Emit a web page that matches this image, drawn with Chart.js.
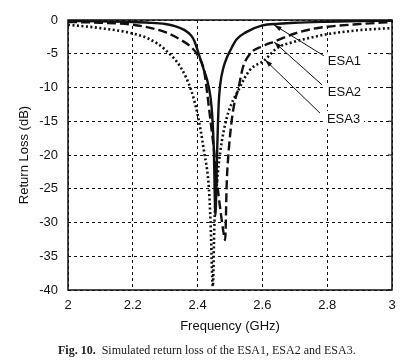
<!DOCTYPE html>
<html>
<head>
<meta charset="utf-8">
<script src="https://cdn.jsdelivr.net/npm/chart.js@4"></script>
<style>
  body { margin: 0; background: #fff; }
  #wrap { position: relative; width: 404px; height: 364px; }
  #caption {
    position: absolute; left: 58px; top: 343px;
    font: 12px "Liberation Serif", "DejaVu Serif", serif; color: #222;
    white-space: nowrap;
  }
</style>
</head>
<body>
<div id="wrap">
  <canvas id="chart" width="404" height="364"></canvas>
  <div id="caption"><b>Fig. 10.</b>&nbsp; Simulated return loss of the ESA1, ESA2 and ESA3.</div>
</div>
<script>
// frequency (GHz) / return loss (dB)
const esa1Freq = [2.0, 2.1, 2.2, 2.25, 2.3, 2.33, 2.36, 2.38, 2.39, 2.4, 2.41, 2.42, 2.43, 2.44, 2.445, 2.45, 2.455, 2.46, 2.465, 2.47, 2.48, 2.49, 2.5, 2.52, 2.55, 2.6, 2.65, 2.7, 2.8, 2.9, 3.0];
const esa1Loss = [-0.15, -0.2, -0.3, -0.4, -0.6, -0.9, -1.5, -2.3, -3.1, -4.5, -6, -7.5, -9, -11.5, -14, -19, -29, -20, -12.5, -9.5, -7, -5.6, -4.6, -2.9, -1.8, -0.8, -0.55, -0.4, -0.25, -0.15, -0.1];

const esa2Freq = [2.0, 2.1, 2.2, 2.3, 2.35, 2.38, 2.4, 2.42, 2.43, 2.44, 2.45, 2.46, 2.47, 2.48, 2.485, 2.49, 2.495, 2.505, 2.515, 2.525, 2.54, 2.562, 2.6, 2.636, 2.7, 2.752, 2.8, 2.9, 3.0];
const esa2Loss = [-0.3, -0.4, -0.7, -1.8, -3, -4, -5.2, -7.5, -11, -15, -19, -24, -28, -31.5, -32.6, -24, -20, -15, -12, -10.3, -7, -5, -3.9, -3.2, -2, -1.35, -1.0, -0.6, -0.3];

const esa3Freq = [2.0, 2.1, 2.2, 2.25, 2.3, 2.35, 2.38, 2.4, 2.42, 2.435, 2.44, 2.447, 2.452, 2.46, 2.47, 2.49, 2.53, 2.56, 2.608, 2.644, 2.7, 2.75, 2.8, 2.9, 3.0];
const esa3Loss = [-0.7, -1.2, -2.0, -2.8, -4.4, -7.2, -10.4, -14, -19.5, -25, -30, -39.5, -30, -24, -19.5, -14.5, -10, -7.5, -5.9, -4.2, -3.2, -2.6, -2.1, -1.5, -1.2];

// callouts: label text, label anchor, arrow start, arrow tip (data units)
const calloutText = ["ESA1", "ESA2", "ESA3"];
const calloutLabel = [[2.802, -6.1], [2.802, -10.7], [2.799, -14.8]];
const calloutFrom = [[2.793, -5.4], [2.784, -9.6], [2.778, -13.8]];
const calloutTip = [[2.636, -0.74], [2.636, -3.26], [2.608, -5.9]];

function pts(xs, ys) {
  return xs.map((x, i) => ({ x: x, y: ys[i] }));
}

const frame = {
  id: "frame",
  afterDatasetsDraw(chart) {
    const { ctx, chartArea: a, scales } = chart;
    ctx.save();
    ctx.strokeStyle = "#111";
    ctx.lineWidth = 1.5;
    ctx.strokeRect(a.left, a.top, a.right - a.left, a.bottom - a.top);

    // short inward ticks on the right edge
    ctx.lineWidth = 1;
    scales.y.ticks.forEach((t) => {
      const y = scales.y.getPixelForValue(t.value);
      ctx.beginPath();
      ctx.moveTo(a.right - 4, y);
      ctx.lineTo(a.right, y);
      ctx.stroke();
    });

    // callout arrows and labels
    ctx.fillStyle = "#111";
    ctx.font = "13px 'Liberation Sans', Arial, sans-serif";
    ctx.textBaseline = "middle";
    for (let i = 0; i < calloutText.length; i++) {
      const x0 = scales.x.getPixelForValue(calloutFrom[i][0]);
      const y0 = scales.y.getPixelForValue(calloutFrom[i][1]);
      const x1 = scales.x.getPixelForValue(calloutTip[i][0]);
      const y1 = scales.y.getPixelForValue(calloutTip[i][1]);
      ctx.beginPath();
      ctx.moveTo(x0, y0);
      ctx.lineTo(x1, y1);
      ctx.stroke();
      const ang = Math.atan2(y1 - y0, x1 - x0);
      const len = 8, w = 0.3;
      ctx.beginPath();
      ctx.moveTo(x1, y1);
      ctx.lineTo(x1 - len * Math.cos(ang - w), y1 - len * Math.sin(ang - w));
      ctx.lineTo(x1 - len * Math.cos(ang + w), y1 - len * Math.sin(ang + w));
      ctx.closePath();
      ctx.fill();

      const lx = scales.x.getPixelForValue(calloutLabel[i][0]);
      const ly = scales.y.getPixelForValue(calloutLabel[i][1]);
      const tw = ctx.measureText(calloutText[i]).width;
      ctx.fillStyle = "#fff";
      ctx.fillRect(lx - 4, ly - 9, tw + 8, 18);
      ctx.fillStyle = "#111";
      ctx.fillText(calloutText[i], lx, ly);
    }
    ctx.restore();
  }
};

const tickFont = { family: "'Liberation Sans', Arial, sans-serif", size: 13 };

new Chart(document.getElementById("chart"), {
  type: "line",
  data: {
    datasets: [
      { label: "ESA1", data: pts(esa1Freq, esa1Loss), borderColor: "#111", borderWidth: 2.4 },
      { label: "ESA2", data: pts(esa2Freq, esa2Loss), borderColor: "#111", borderWidth: 2.4, borderDash: [9, 4] },
      { label: "ESA3", data: pts(esa3Freq, esa3Loss), borderColor: "#111", borderWidth: 2.6, borderDash: [2, 2.5] }
    ]
  },
  options: {
    responsive: false,
    animation: false,
    cubicInterpolationMode: "monotone",
    pointRadius: 0,
    layout: { padding: { left: 0, right: 12, top: 20, bottom: 30 } },
    plugins: { legend: { display: false }, tooltip: { enabled: false } },
    scales: {
      x: {
        type: "linear", min: 2, max: 3,
        afterFit: (s) => { s.height = 44; },
        ticks: { stepSize: 0.2, padding: 8, color: "#111", font: tickFont,
          callback: (v) => String(+v.toFixed(1)) },
        grid: { color: "#111", lineWidth: 1, drawTicks: false },
        border: { display: false, dash: [3, 3] },
        title: { display: true, text: "Frequency (GHz)", color: "#111", font: tickFont, padding: { top: 2, bottom: 0 } }
      },
      y: {
        min: -40, max: 0,
        afterFit: (s) => { s.width = 68; },
        ticks: { stepSize: 5, padding: 10, color: "#111", font: tickFont },
        grid: { color: "#111", lineWidth: 1, drawTicks: false },
        border: { display: false, dash: [3, 3] },
        title: { display: true, text: "Return Loss (dB)", color: "#111", font: tickFont, padding: { top: 17, bottom: 0 } }
      }
    }
  },
  plugins: [frame]
});
</script>
</body>
</html>
